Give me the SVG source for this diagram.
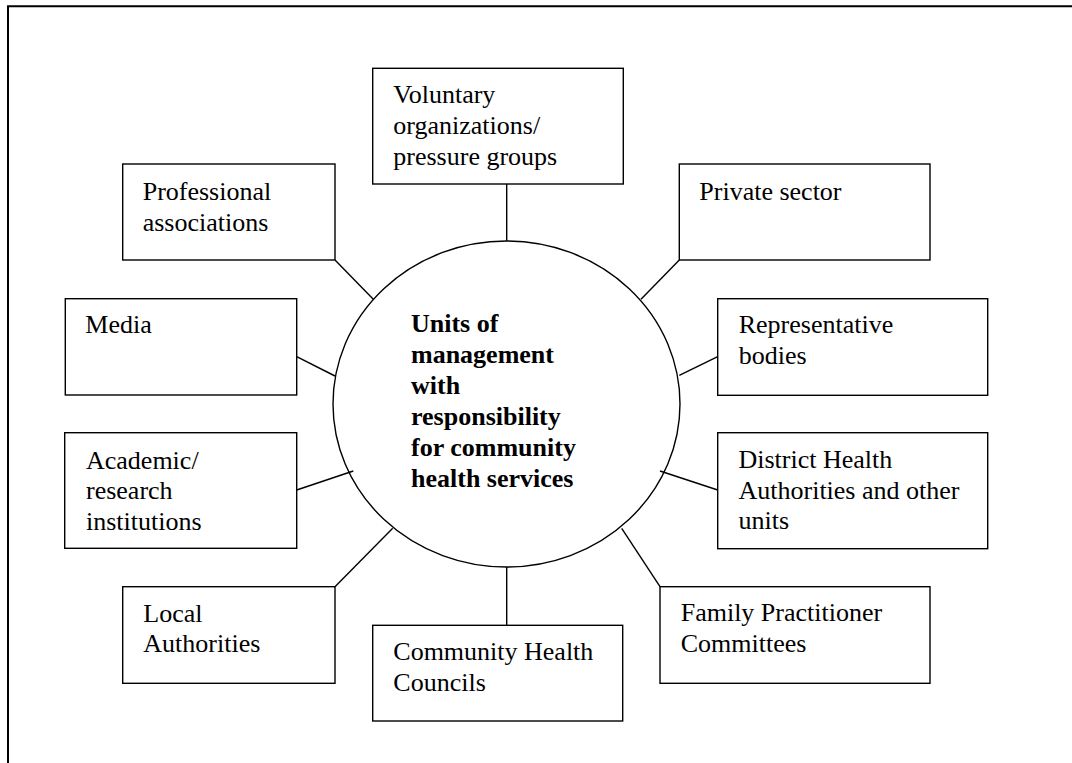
<svg xmlns="http://www.w3.org/2000/svg" width="1072" height="763" viewBox="0 0 1072 763">
<style>
.box{fill:#fff;stroke:#000;stroke-width:1.4}
.t{font-family:"Liberation Serif","Times New Roman",serif;font-size:26px;fill:#000}
.b{font-weight:bold}
.c{stroke:#000;stroke-width:1.4;fill:none}
</style>
<rect width="1072" height="763" fill="#fff"/>
<path d="M8 763 V6.3 H1072" fill="none" stroke="#000" stroke-width="2"/>
<g id="connectors">
<line class="c" x1="506.7" y1="184" x2="506.7" y2="241"/>
<line class="c" x1="506.7" y1="567" x2="506.7" y2="625"/>
<line class="c" x1="335" y1="260" x2="373.3" y2="299.3"/>
<line class="c" x1="679.3" y1="260" x2="641" y2="299.3"/>
<line class="c" x1="296.7" y1="356.7" x2="335" y2="376"/>
<line class="c" x1="717.7" y1="356.7" x2="679.3" y2="375.3"/>
<line class="c" x1="296.7" y1="490" x2="353.3" y2="471"/>
<line class="c" x1="717.7" y1="490" x2="660" y2="471"/>
<line class="c" x1="335" y1="586.7" x2="392.7" y2="528.3"/>
<line class="c" x1="660" y1="586.7" x2="621.7" y2="528.3"/>
</g>
<g id="center">
<ellipse class="c" cx="506.5" cy="404" rx="173.5" ry="163"/>
<text class="t b" x="411" y="332">Units of</text>
<text class="t b" x="411" y="363">management</text>
<text class="t b" x="411" y="394">with</text>
<text class="t b" x="411" y="425">responsibility</text>
<text class="t b" x="411" y="456">for community</text>
<text class="t b" x="411" y="487">health services</text>
</g>
<g id="voluntary">
<rect class="box" x="372.7" y="68.3" width="250.6" height="115.7"/>
<text class="t" x="393.3" y="103.3">Voluntary</text>
<text class="t" x="393.3" y="134">organizations/</text>
<text class="t" x="393.3" y="164.5">pressure groups</text>
</g>
<g id="professional">
<rect class="box" x="122.7" y="164" width="212.3" height="96"/>
<text class="t" x="142.7" y="200">Professional</text>
<text class="t" x="142.7" y="230.5">associations</text>
</g>
<g id="private">
<rect class="box" x="679.3" y="164" width="250.7" height="96"/>
<text class="t" x="699.3" y="200">Private sector</text>
</g>
<g id="media">
<rect class="box" x="65.3" y="298.7" width="231.4" height="96.3"/>
<text class="t" x="85.3" y="333">Media</text>
</g>
<g id="representative">
<rect class="box" x="717.7" y="298.7" width="270" height="96.6"/>
<text class="t" x="738.7" y="333">Representative</text>
<text class="t" x="738.7" y="364">bodies</text>
</g>
<g id="academic">
<rect class="box" x="64.7" y="432.7" width="232" height="115.6"/>
<text class="t" x="86" y="468.5">Academic/</text>
<text class="t" x="86" y="499">research</text>
<text class="t" x="86" y="529.5">institutions</text>
</g>
<g id="district">
<rect class="box" x="717.7" y="432.7" width="270" height="116"/>
<text class="t" x="738.5" y="468">District Health</text>
<text class="t" x="738.5" y="498.7">Authorities and other</text>
<text class="t" x="738.5" y="529.3">units</text>
</g>
<g id="local">
<rect class="box" x="122.7" y="586.7" width="212.3" height="96.6"/>
<text class="t" x="143.3" y="621.5">Local</text>
<text class="t" x="143.3" y="652.3">Authorities</text>
</g>
<g id="family">
<rect class="box" x="660" y="586.7" width="270" height="96.6"/>
<text class="t" x="680.7" y="621">Family Practitioner</text>
<text class="t" x="680.7" y="652.3">Committees</text>
</g>
<g id="community">
<rect class="box" x="372.7" y="625.3" width="250" height="95.7"/>
<text class="t" x="393.3" y="659.5">Community Health</text>
<text class="t" x="393.3" y="690.5">Councils</text>
</g>
</svg>
